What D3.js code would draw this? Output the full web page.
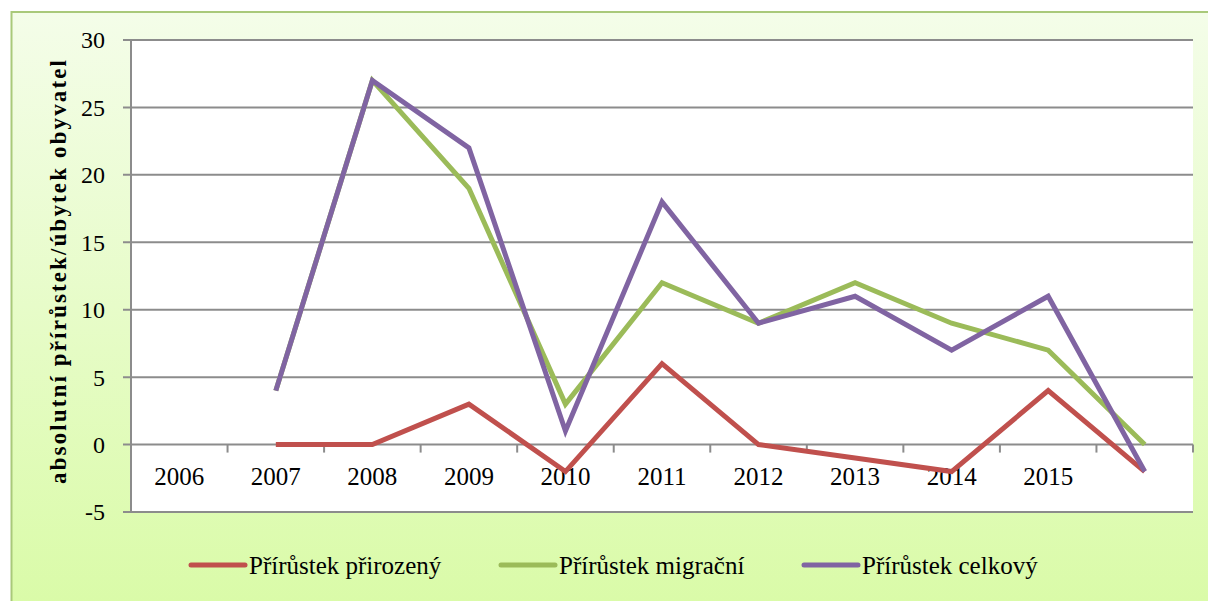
<!DOCTYPE html>
<html>
<head>
<meta charset="utf-8">
<script src="https://cdn.jsdelivr.net/npm/d3@7"></script>
<style>
  body { margin: 0; background: #fff; }
</style>
</head>
<body>
<div class="chart"></div>
<script>
// chart of population change
var w = 1208, h = 601;
var years = ["2006", "2007", "2008", "2009", "2010", "2011", "2012", "2013", "2014", "2015", ""];
var seriesNames = ["Přírůstek přirozený", "Přírůstek migrační", "Přírůstek celkový"];
var prirozeny = [null, 0, 0, 3, -2, 6, 0, -1, -2, 4, -2];
var migracni = [null, 4, 27, 19, 3, 12, 9, 12, 9, 7, 0];
var celkovy = [null, 4, 27, 22, 1, 18, 9, 11, 7, 11, -2];
var yTicks = [-5, 0, 5, 10, 15, 20, 25, 30];
var colors = ["#c0504d", "#9bbb59", "#8064a2"];
var serif = "'Liberation Serif', 'DejaVu Serif', serif";

var pLeft = 131, pRight = 1193, pTop = 40, pBottom = 512;

var svg = d3.select(".chart")
    .append("svg")
    .attr("width", w)
    .attr("height", h);

var grad = svg.append("defs").append("linearGradient")
    .attr("id", "bg")
    .attr("x1", 0).attr("y1", 0).attr("x2", 0).attr("y2", 1);
grad.append("stop").attr("offset", "0%").attr("stop-color", "#f4fde9");
grad.append("stop").attr("offset", "100%").attr("stop-color", "#d9fba6");

svg.append("rect")
    .attr("x", 11.5).attr("y", 12)
    .attr("width", w + 10).attr("height", h + 10)
    .attr("fill", "url(#bg)")
    .attr("stroke", "#a9c97a")
    .attr("stroke-width", 2);

var x = d3.scaleBand().domain(d3.range(years.length)).range([pLeft, pRight]);
var y = d3.scaleLinear().domain([-5, 30]).range([pBottom, pTop]);

// plot area
svg.append("rect")
    .attr("x", pLeft).attr("y", pTop)
    .attr("width", pRight - pLeft).attr("height", pBottom - pTop)
    .attr("fill", "#fff");

// gridlines
svg.append("g")
    .selectAll("line")
    .data(yTicks)
    .enter()
    .append("line")
    .attr("x1", pLeft - 8)
    .attr("x2", pRight)
    .attr("y1", function(d) { return y(d); })
    .attr("y2", function(d) { return y(d); })
    .attr("stroke", "#8c8c8c")
    .attr("stroke-width", 2);

svg.append("line")
    .attr("x1", pLeft).attr("x2", pLeft)
    .attr("y1", pTop).attr("y2", pBottom)
    .attr("stroke", "#8c8c8c")
    .attr("stroke-width", 2);

// y labels
svg.append("g")
    .selectAll("text")
    .data(yTicks)
    .enter()
    .append("text")
    .attr("x", 105)
    .attr("y", function(d) { return y(d); })
    .attr("dy", "0.35em")
    .style("text-anchor", "end")
    .style("font-family", serif)
    .style("font-size", "24px")
    .style("fill", "#000")
    .text(function(d) { return d; });

// category labels under the zero line
var xAxis = d3.axisBottom(x)
    .tickSize(0)
    .tickFormat(function(i) { return years[i]; });

var xg = svg.append("g")
    .attr("transform", "translate(0," + y(0) + ")")
    .call(xAxis);
xg.select(".domain").remove();
xg.selectAll("text")
    .attr("y", 23)
    .style("font-size", "25px")
    .style("font-family", serif)
    .attr("fill", "#000");

svg.append("g")
    .selectAll("line")
    .data(d3.range(years.length + 1))
    .enter()
    .append("line")
    .attr("x1", function(i) { return pLeft + i * x.step(); })
    .attr("x2", function(i) { return pLeft + i * x.step(); })
    .attr("y1", y(0))
    .attr("y2", y(0) + 8)
    .attr("stroke", "#8c8c8c")
    .attr("stroke-width", 2);

// lines
var line = d3.line()
    .defined(function(d) { return d != null; })
    .x(function(d, i) { return x(i) + x.bandwidth() / 2; })
    .y(function(d) { return y(d); });

var allSeries = [prirozeny, migracni, celkovy];

svg.append("g")
    .selectAll("path")
    .data(allSeries)
    .enter()
    .append("path")
    .attr("d", line)
    .attr("fill", "none")
    .attr("stroke", function(d, i) { return colors[i]; })
    .attr("stroke-width", 5)
    .attr("stroke-linejoin", "miter");

// y title
svg.append("text")
    .attr("transform", "translate(66," + 272 + ") rotate(-90)")
    .style("text-anchor", "middle")
    .style("font-family", serif)
    .style("font-size", "23px")
    .style("font-weight", "bold")
    .style("fill", "#000")
    .attr("textLength", 424)
    .attr("lengthAdjust", "spacing")
    .text("absolutní přírůstek/úbytek obyvatel");

// legend
var legendX = [190, 500, 803];
var lg = svg.append("g")
    .selectAll("g")
    .data(seriesNames)
    .enter()
    .append("g")
    .attr("transform", function(d, i) { return "translate(" + legendX[i] + ",565)"; });

lg.append("line")
    .attr("x1", 1).attr("x2", 55)
    .attr("stroke", function(d, i) { return colors[i]; })
    .attr("stroke-width", 5)
    .attr("stroke-linecap", "round");

lg.append("text")
    .attr("x", 59)
    .attr("dy", "0.35em")
    .style("font-family", serif)
    .style("font-size", "25px")
    .style("fill", "#000")
    .text(function(d) { return d; });
</script>
</body>
</html>
